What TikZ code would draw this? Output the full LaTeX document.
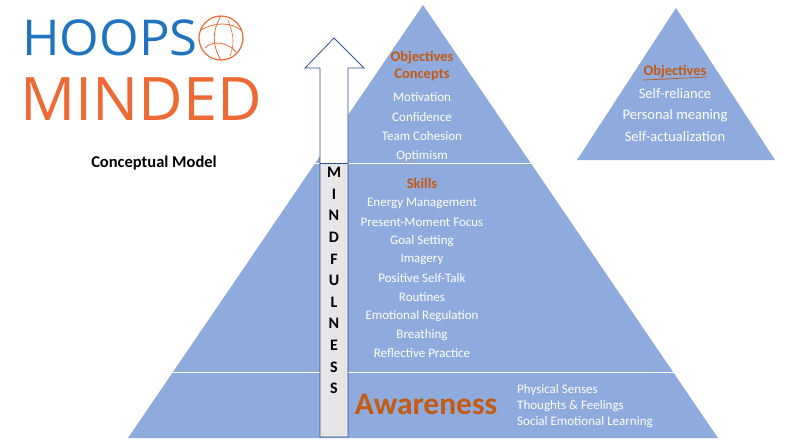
\documentclass[tikz,border=0pt]{standalone}
\usepackage{fontspec}
\setmainfont{Carlito}
\newfontfamily\logofont{Open Sans}
\begin{document}
\begin{tikzpicture}[x=1pt,y=-1pt,
  pyr/.style={fill=pfill,draw=none},
  wt/.style={text=white,font=\fontsize{13}{15}\selectfont,inner sep=0},
  ot/.style={text=otext,font=\bfseries\fontsize{14.5}{16}\selectfont,inner sep=0},
  lt/.style={font=\bfseries\fontsize{16}{18}\selectfont,inner sep=0}]
\definecolor{pfill}{HTML}{8FAADC}
\definecolor{otext}{HTML}{C55A11}
\definecolor{lblue}{HTML}{1F74BD}
\definecolor{lorange}{HTML}{EE6A35}
\definecolor{sgray}{HTML}{E7E6E6}
\definecolor{adark}{HTML}{2F528F}
\useasboundingbox (0,0) rectangle (785,442);
% big pyramid
\path[pyr] (423,5) -- (718,438) -- (128,438) -- cycle;
\draw[white,line width=1pt] (315,163) -- (535,163);
\draw[white,line width=1pt] (172,372) -- (674,372);
% small pyramid
\path[pyr] (676,8) -- (775,160) -- (577,160) -- cycle;
% arrow
\fill[white] (305,68) -- (334,38) -- (364,68) -- (348,68) -- (348,163) -- (320,163) -- (320,68) -- cycle;
\fill[sgray] (320,163) rectangle (348,437);
\draw[adark,line width=0.8pt] (320,437) -- (320,68) -- (305,68) -- (334,38) -- (364,68) -- (348,68) -- (348,437) -- cycle;
\draw[adark,line width=0.8pt] (320,163) -- (348,163);
\foreach \l [count=\i] in {M,I,N,D,F,U,L,N,E,S,S}
  \node[lt] (m\i) at (334,{151+\i*21.6}) {\l};
% texts
\node[ot] (obj) at (422,58) {Objectives};
\node[ot] (con) at (422,75) {Concepts};
\node[wt] (t1) at (422,97) {Motivation};
\node[wt] (t2) at (422,117) {Confidence};
\node[wt] (t3) at (422,136) {Team Cohesion};
\node[wt] (t4) at (422,156) {Optimism};
\node[ot] (sk) at (422,183) {Skills};
\foreach \t [count=\i] in {Energy Management,Present-Moment Focus,Goal Setting,Imagery,Positive Self-Talk,Routines,Emotional Regulation,Breathing,Reflective Practice}
  \node[wt] (s\i) at (422,{185+\i*18.7}) {\t};
\node[text=otext,font=\bfseries\fontsize{31.5}{34}\selectfont,inner sep=0] (aw) at (426,404) {Awareness};
\node[wt,anchor=west,align=left,font=\fontsize{13}{16}\selectfont] (aw2) at (517,406) {Physical Senses\\Thoughts \& Feelings\\Social Emotional Learning};
\node[ot,font=\bfseries\fontsize{14.5}{16}\selectfont] (o2) at (675,72) {Objectives};
\draw[otext,line width=0.7pt] (o2.south west)++(0,1.5) -- ([yshift=1.5]o2.south east);
\node[wt,font=\fontsize{14.5}{16}\selectfont] (r1) at (675,94) {Self-reliance};
\node[wt,font=\fontsize{14.5}{16}\selectfont] (r2) at (675,116) {Personal meaning};
\node[wt,font=\fontsize{14.5}{16}\selectfont] (r3) at (675,137) {Self-actualization};
% logo
\node[text=lblue,font=\logofont\fontsize{52}{52}\selectfont,inner sep=0,anchor=west,xscale=0.98,yscale=0.95] (hoops) at (22,38) {HOOPS};
\node[text=lorange,font=\logofont\fontsize{60}{60}\selectfont,inner sep=0,anchor=west,xscale=1.02] (minded) at (20,99) {MINDED};
\draw[lorange,line width=1.2pt] (221,38) circle (22);
\draw[lorange,line width=0.8pt] (201,30) .. controls (215,22) and (230,22) .. (241,30);
\draw[lorange,line width=0.8pt] (221,16) .. controls (212,30) and (212,46) .. (221,60);
\draw[lorange,line width=0.8pt] (205,48) .. controls (212,40) and (228,42) .. (236,52);
\draw[lorange,line width=0.6pt] (228,20) .. controls (232,32) and (236,40) .. (230,56);
\node[font=\bfseries\fontsize{16.5}{18}\selectfont,inner sep=0] (cm) at (154,163) {Conceptual Model};
\end{tikzpicture}
\end{document}
